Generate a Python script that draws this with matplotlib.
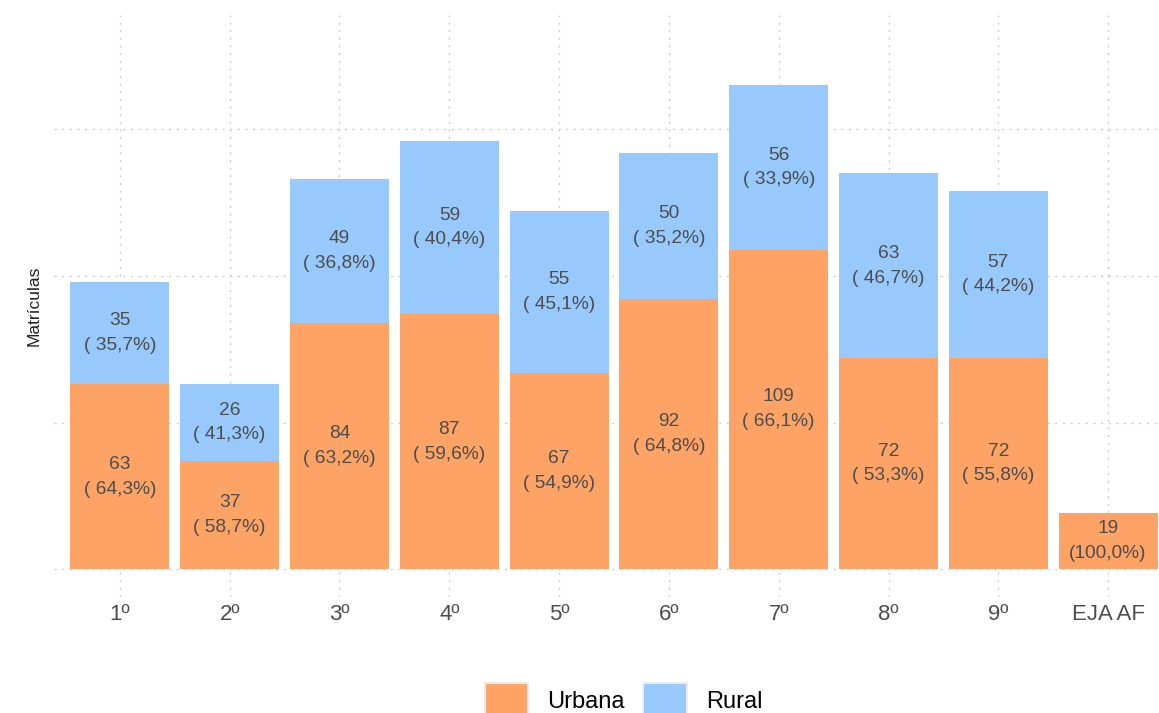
import matplotlib.pyplot as plt
from matplotlib.patches import Patch

# Data
series = ['1º', '2º', '3º', '4º', '5º', '6º', '7º', '8º', '9º', 'EJA AF']
urbana = [63, 37, 84, 87, 67, 92, 109, 72, 72, 19]
rural = [35, 26, 49, 59, 55, 50, 56, 63, 57, 0]

orange, blue = '#FDA366', '#97C9FC'
label_color = '#4D4D4D'

plt.rcParams['font.family'] = ['Liberation Sans', 'DejaVu Sans']

fig = plt.figure(figsize=(11.59, 7.13), dpi=100)
ax = fig.add_axes((54 / 1159, 1 - 597 / 713, 1120 / 1159, 582 / 713))

x = list(range(len(series)))
ax.bar(x, urbana, width=0.9, color=orange, zorder=2)
ax.bar(x, rural, width=0.9, bottom=urbana, color=blue, zorder=2)

# Segment labels: value and share of the bar total
for i, (u, r) in enumerate(zip(urbana, rural)):
    total = u + r
    for bottom, v in ((0, u), (u, r)):
        if v == 0:
            continue
        pct = f'({100 * v / total:5.1f}%)'.replace('.', ',')
        ax.text(i, bottom + v / 2, f'{v}\n{pct}', ha='center', va='center',
                fontsize=13.8, color=label_color, linespacing=1.6, zorder=3)

ax.set_xlim(-0.6, len(series) - 0.4)
ax.set_ylim(-9.5, 189)
ax.set_xticks(x, series, fontsize=16, color=label_color)
ax.set_yticks([0, 50, 100, 150], [])
ax.tick_params(length=0, pad=5)
ax.grid(True, color='#CCCCCC', linestyle=(0, (1.5, 4)), linewidth=1.0, zorder=0)
ax.set_axisbelow(True)
for s in ax.spines.values():
    s.set_visible(False)
ax.set_ylabel('Matrículas', fontsize=12.5, color='#222222', labelpad=4)

handles = [Patch(facecolor=orange, edgecolor='#EBEBEB', linewidth=1.5, label='Urbana'),
           Patch(facecolor=blue, edgecolor='#EBEBEB', linewidth=1.5, label='Rural')]
fig.legend(handles=handles, loc='center', bbox_to_anchor=(0.538, 0.018), ncol=2,
           frameon=False, fontsize=17, handlelength=1.85, handleheight=1.85,
           handletextpad=0.8, columnspacing=0.8)

fig.savefig('out.png', dpi=100)
